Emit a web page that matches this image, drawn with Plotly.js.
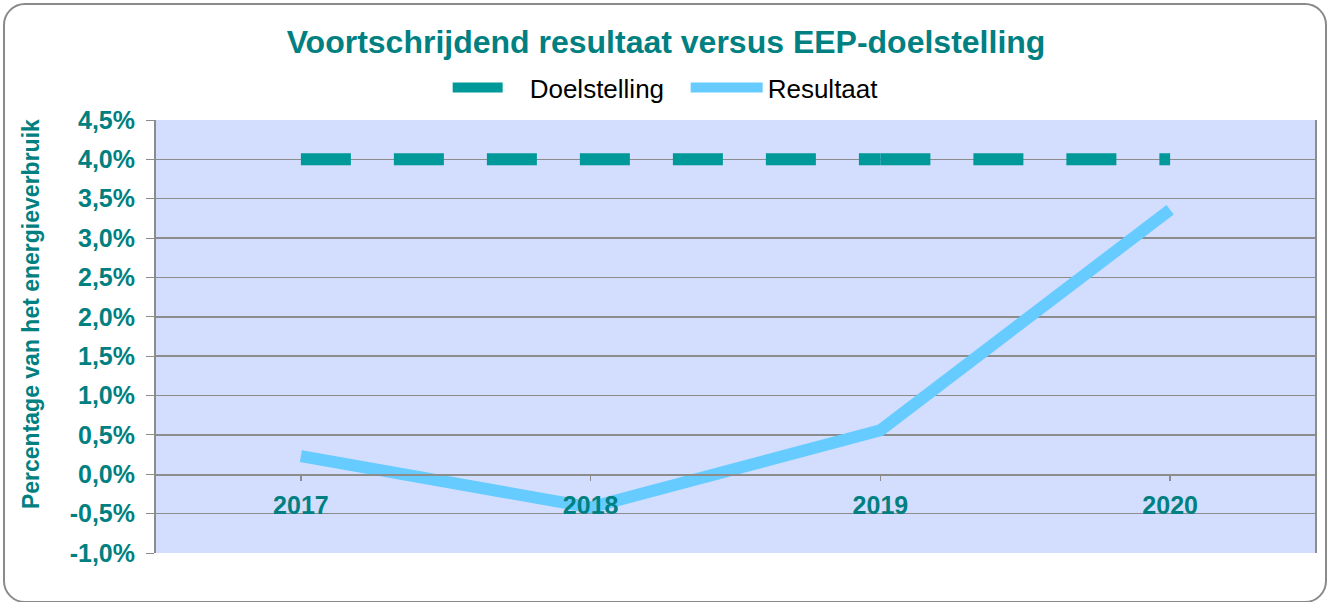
<!DOCTYPE html>
<html><head><meta charset="utf-8">
<script src="https://cdn.plot.ly/plotly-3.0.1.min.js"></script>
<style>
html,body{margin:0;padding:0;background:#fff;}
#wrap{position:relative;width:1332px;height:602px;}
#chart{position:absolute;left:0;top:0;width:1332px;height:602px;}
#frame{position:absolute;left:3px;top:3px;width:1324px;height:600px;border:2px solid #8a8a8a;border-radius:22px;pointer-events:none;box-sizing:border-box;}
</style></head>
<body>
<div id="wrap"><div id="chart"></div><div id="frame"></div></div>
<script>
const categories = ['2017','2018','2019','2020'];
const doelstelling = [4.0, 4.0, 4.0, 4.0];
const resultaat = [0.23, -0.42, 0.56, 3.36];
const yTickVals = [-1,-0.5,0,0.5,1,1.5,2,2.5,3,3.5,4,4.5];
const yTickText = ['-1,0%','-0,5%','0,0%','0,5%','1,0%','1,5%','2,0%','2,5%','3,0%','3,5%','4,0%','4,5%'];

const teal = '#008080';
const FONT = 'Liberation Sans, Arial, sans-serif';
// the target line's dash pattern restarts at 2019, as in the original
const doelParts = [[0, 3], [2, 4]];
const traces = doelParts.map((p, i) => ({
  x: categories.slice(p[0], p[1]), y: doelstelling.slice(p[0], p[1]),
  name: 'Doelstelling', legendgroup: 'doel', showlegend: i === 0,
  type: 'scatter', mode: 'lines',
  line: {color: '#009999', width: 12, dash: '50px,43px'}, hoverinfo: 'skip'
}));
traces.push({x: categories, y: resultaat, name: 'Resultaat', type: 'scatter', mode: 'lines',
   line: {color: '#66CCFF', width: 12}, hoverinfo: 'skip'});

const layout = {
  width: 1332, height: 602,
  margin: {l: 156, r: 17, t: 120, b: 49},
  paper_bgcolor: 'rgba(0,0,0,0)',
  plot_bgcolor: '#D3DDFD',
  font: {family: FONT},
  title: {text: '<b>Voortschrijdend resultaat versus EEP-doelstelling</b>', x: 0.5, xanchor: 'center', y: 1 - 42 / 602, yanchor: 'middle',
          yref: 'container', font: {size: 32, color: teal, family: FONT}},
  showlegend: true,
  legend: {orientation: 'h', x: 0.457, xanchor: 'center', y: 1.075, yanchor: 'middle', font: {size: 26, color: '#000'},
           bgcolor: 'rgba(0,0,0,0)', traceorder: 'normal', itemwidth: 72, entrywidth: 151},
  xaxis: {type: 'category', anchor: 'free', position: 1/5.5, range: [-0.5, 3.5],
          showgrid: false, zeroline: false, showline: true, linecolor: '#8c8c8c', linewidth: 1.5,
          ticks: 'outside', ticklen: 5, tickcolor: '#8c8c8c', tickwidth: 1.5, ticklabelstandoff: 3,
          tickfont: {size: 25, color: teal, family: FONT, weight: 'bold'}},
  yaxis: {range: [-1, 4.5], tickvals: yTickVals, ticktext: yTickText,
          showgrid: true, gridcolor: '#8c8c8c', gridwidth: 1.5, zeroline: false,
          showline: true, linecolor: '#8c8c8c', linewidth: 2, mirror: true,
          ticks: 'outside', ticklen: 8, tickcolor: '#8c8c8c', ticklabelstandoff: 6,
          tickfont: {size: 25, color: teal, family: FONT, weight: 'bold'},
          title: {text: '<b>\u00A0\u00A0\u00A0\u00A0\u00A0\u00A0\u00A0Percentage van het energieverbruik</b>', standoff: 24,
                  font: {size: 23, color: teal, family: FONT}}}
};
Plotly.newPlot('chart', traces, layout, {displayModeBar: false, staticPlot: true});
</script>
</body></html>
